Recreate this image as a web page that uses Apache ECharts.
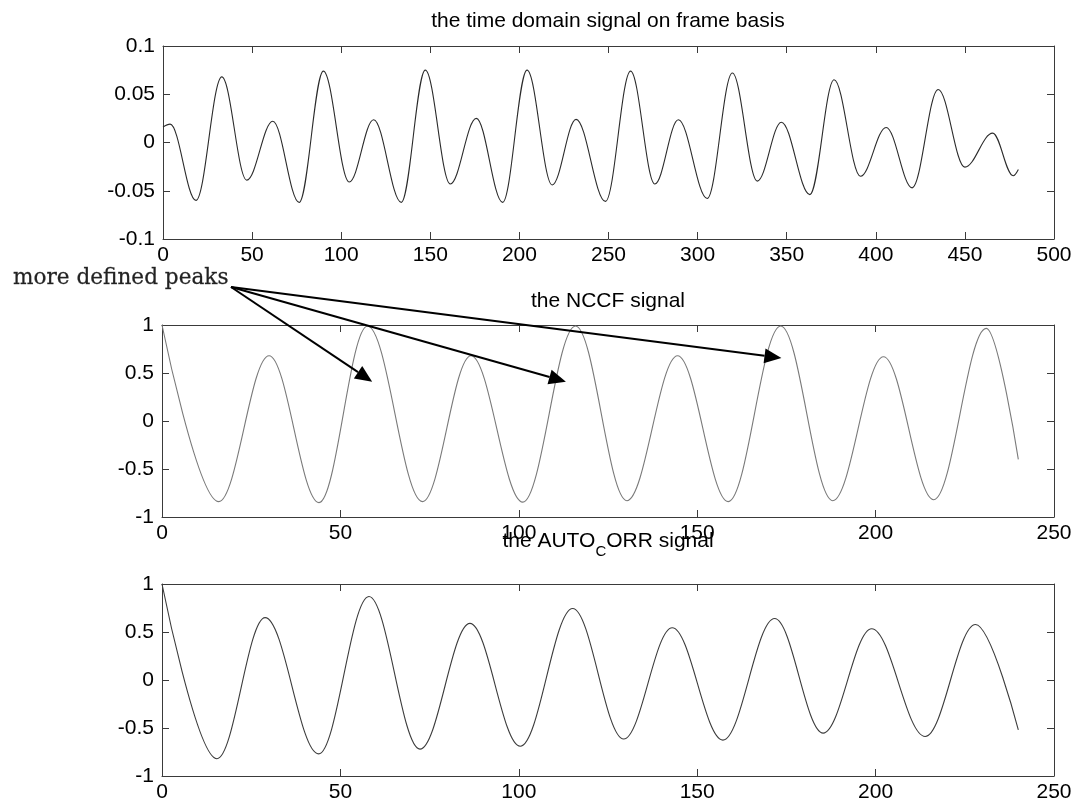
<!DOCTYPE html>
<html><head><meta charset="utf-8">
<script src="https://cdn.jsdelivr.net/npm/echarts@6/dist/echarts.min.js"></script>
<style>html,body{margin:0;padding:0;background:#fff}#c{width:1075px;height:803px}</style>
</head><body><div id="c"></div>
<script>
// ---- data (sample index, value) at the extrema ----
const timeSignal = [[0,0.016],[4,0.019],[18.5,-0.060],[33,0.068],[47,-0.039],[61.6,0.022],[76.4,-0.062],[90,0.074],[104.5,-0.041],[118.2,0.0235],[133.7,-0.062],[147.2,0.075],[161.2,-0.043],[175.8,0.025],[190.6,-0.062],[204.3,0.075],[218.4,-0.044],[231.8,0.024],[248.3,-0.061],[262.4,0.074],[276,-0.043],[289.2,0.0235],[305.4,-0.058],[319.5,0.072],[333.5,-0.040],[347,0.021],[363,-0.054],[376.6,0.065],[391.4,-0.035],[405.8,0.0156],[420.4,-0.047],[435,0.055],[450,-0.0255],[465.6,0.0097],[477.1,-0.0345],[480,-0.028]];
const nccfSignal = [[0,1],[15.9,-0.84],[30,0.68],[44,-0.85],[57.6,0.99],[73,-0.84],[86.6,0.68],[101.1,-0.845],[115.9,0.99],[130.3,-0.83],[144.5,0.68],[158.7,-0.84],[173.4,0.99],[188,-0.83],[202.2,0.67],[216.3,-0.82],[231,0.965],[240,-0.40]];
const autocorrSignal = [[0,1],[15.4,-0.82],[28.9,0.65],[43.9,-0.77],[58,0.87],[72.3,-0.72],[86.3,0.59],[100.4,-0.69],[115.1,0.745],[129.4,-0.615],[143,0.544],[157.2,-0.626],[171.7,0.64],[185.3,-0.553],[198.9,0.534],[213.9,-0.588],[228,0.578],[240,-0.52]];
const plotTitles = ['the time domain signal on frame basis', 'the NCCF signal', 'the AUTO_CORR signal'];
const annotationText = 'more defined peaks';
const peakTargets = [[58.9, 0.41], [113.2, 0.41], [173.6, 0.656]]; // arrow tips, NCCF data coords

const FONT = '"Liberation Sans", Arial, sans-serif';
const AX = '#3a3a3a';
const chart = echarts.init(document.getElementById('c'), null, {renderer: 'canvas'});

const grids = [
  {left: 163, top: 46, width: 891, height: 193},
  {left: 162, top: 325, width: 892, height: 192},
  {left: 162, top: 584, width: 892, height: 193}
];
const xCfg = [{max: 500, interval: 50}, {max: 250, interval: 50}, {max: 250, interval: 50}];
const yCfg = [
  {min: -0.1, max: 0.1, interval: 0.05, fmt: v => String(+v.toFixed(2))},
  {min: -1, max: 1, interval: 0.5, fmt: v => String(+v.toFixed(1))},
  {min: -1, max: 1, interval: 0.5, fmt: v => String(+v.toFixed(1))}
];
const lineColors = ['#2b2b2b', '#7a7a7a', '#3c3c3c'];
const seriesData = [timeSignal, nccfSignal, autocorrSignal];

const xAxes = [], yAxes = [], series = [];
grids.forEach((g, i) => {
  const common = {axisLine: {show: true, onZero: false, lineStyle: {color: AX, width: 1}},
    axisTick: {show: true, inside: true, length: 7, lineStyle: {color: AX}}, splitLine: {show: false}};
  xAxes.push(Object.assign({type: 'value', gridIndex: i, position: 'bottom', min: 0, max: xCfg[i].max, interval: xCfg[i].interval,
    axisLabel: {show: true, color: '#000', fontSize: 21, fontFamily: FONT, margin: 6, showMinLabel: true, showMaxLabel: true}}, common));
  xAxes.push(Object.assign({type: 'value', gridIndex: i, position: 'top', min: 0, max: xCfg[i].max, interval: xCfg[i].interval,
    axisLabel: {show: false}}, common));
  yAxes.push(Object.assign({type: 'value', gridIndex: i, position: 'left', min: yCfg[i].min, max: yCfg[i].max, interval: yCfg[i].interval,
    axisLabel: {show: true, color: '#000', fontSize: 21, fontFamily: FONT, margin: 8, formatter: yCfg[i].fmt, showMinLabel: true, showMaxLabel: true}}, common));
  yAxes.push(Object.assign({type: 'value', gridIndex: i, position: 'right', min: yCfg[i].min, max: yCfg[i].max, interval: yCfg[i].interval,
    axisLabel: {show: false}}, common));
  series.push({type: 'line', xAxisIndex: 2 * i, yAxisIndex: 2 * i, data: seriesData[i], showSymbol: false,
    smooth: 0.36, smoothMonotone: 'x', silent: true, lineStyle: {color: lineColors[i], width: 1.1}});
});

const titleBase = {left: 608, textAlign: 'center', padding: 0};
const titleStyle = {fontSize: 21, fontFamily: FONT, fontWeight: 'normal', color: '#000', lineHeight: 21};
const titles = [
  Object.assign({text: plotTitles[0], top: 11, textStyle: titleStyle}, titleBase),
  Object.assign({text: plotTitles[1], top: 291, textStyle: titleStyle}, titleBase),
  Object.assign({text: plotTitles[2].replace('_C', '{sub|C}'), top: 523,
    textStyle: Object.assign({}, titleStyle, {lineHeight: 36,
      rich: {sub: {fontSize: 15, fontFamily: FONT, color: '#000', lineHeight: 14, padding: [22, 0, 0, 0]}}})}, titleBase)
];

chart.setOption({
  animation: false,
  backgroundColor: '#fff',
  title: titles,
  grid: grids,
  xAxis: xAxes,
  yAxis: yAxes,
  series: series
});

// annotation: text plus arrows pointing to NCCF peaks
const start = [231, 287];
const graphics = [{type: 'text', x: 13, y: 278, z: 100,
  style: {text: annotationText, fontSize: 21.6, fontFamily: '"DejaVu Serif", serif', fill: '#222', stroke: '#555', lineWidth: 0.3, textAlign: 'left', textVerticalAlign: 'middle'}}];
peakTargets.forEach(t => {
  const p = chart.convertToPixel({xAxisIndex: 2, yAxisIndex: 2}, t);
  const dx = p[0] - start[0], dy = p[1] - start[1];
  const len = Math.sqrt(dx * dx + dy * dy);
  const ux = dx / len, uy = dy / len, nx = -uy, ny = ux;
  const L = 17, W = 7.5;
  const bx = p[0] - ux * L, by = p[1] - uy * L;
  graphics.push({type: 'line', z: 100, shape: {x1: start[0], y1: start[1], x2: bx, y2: by}, style: {stroke: '#000', lineWidth: 2}});
  graphics.push({type: 'polygon', z: 100, shape: {points: [[p[0], p[1]], [bx + nx * W, by + ny * W], [bx - nx * W, by - ny * W]]}, style: {fill: '#000'}});
});
chart.setOption({graphic: graphics});
</script></body></html>
